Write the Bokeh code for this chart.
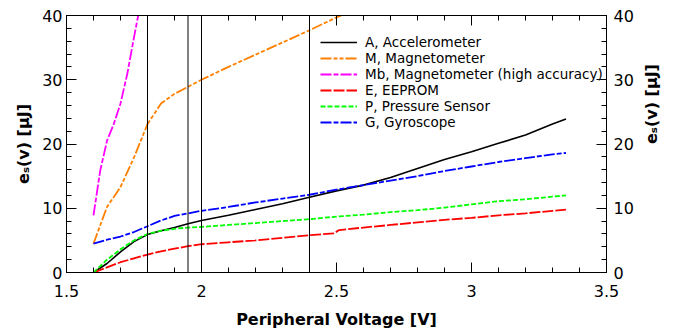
import numpy as np
from bokeh.plotting import figure
from bokeh.models import (LinearAxis, Range1d, FixedTicker, NumeralTickFormatter,
                          Span, Legend, LegendItem, CustomLabelingPolicy)
from bokeh.embed import file_html
from bokeh.resources import INLINE

# ---------------- data ----------------
x_A = [1.6, 1.65, 1.7, 1.75, 1.8, 1.85, 1.9, 1.95, 2.0, 2.1, 2.2, 2.3, 2.4, 2.5, 2.6, 2.7, 2.8, 2.9, 3.0, 3.1, 3.2, 3.3, 3.35]
y_A = [0.0, 1.4, 3.2, 4.8, 5.9, 6.5, 7.0, 7.6, 8.1, 8.9, 9.8, 10.7, 11.7, 12.7, 13.6, 14.8, 16.2, 17.6, 18.8, 20.1, 21.4, 23.1, 23.9]

x_M = [1.6, 1.65, 1.7, 1.75, 1.8, 1.85, 1.9, 1.95, 2.0, 2.1, 2.2, 2.3, 2.4, 2.5, 2.55]
y_M = [4.5, 10.2, 13.3, 17.9, 23.1, 26.3, 27.8, 28.9, 30.0, 32.0, 33.9, 35.8, 37.7, 39.7, 40.6]

x_Mb = [1.6, 1.625, 1.65, 1.675, 1.7, 1.725, 1.75, 1.77]
y_Mb = [8.9, 15.9, 20.5, 23.1, 26.3, 30.9, 36.6, 41.0]

x_E = [1.6, 1.65, 1.7, 1.75, 1.8, 1.85, 1.9, 1.95, 2.0, 2.1, 2.2, 2.3, 2.4, 2.49, 2.51, 2.6, 2.7, 2.8, 2.9, 3.0, 3.1, 3.2, 3.3, 3.35]
y_E = [0.0, 0.8, 1.6, 2.2, 2.8, 3.3, 3.7, 4.1, 4.4, 4.7, 5.0, 5.4, 5.8, 6.1, 6.6, 7.0, 7.4, 7.8, 8.2, 8.5, 8.9, 9.2, 9.6, 9.8]

x_P = [1.6, 1.65, 1.7, 1.75, 1.8, 1.85, 1.9, 1.95, 2.0, 2.1, 2.2, 2.3, 2.4, 2.5, 2.6, 2.7, 2.8, 2.9, 3.0, 3.1, 3.2, 3.3, 3.35]
y_P = [0.0, 2.0, 3.6, 5.0, 6.0, 6.5, 6.8, 7.0, 7.1, 7.4, 7.7, 8.0, 8.3, 8.7, 9.0, 9.4, 9.7, 10.1, 10.6, 11.1, 11.4, 11.8, 12.0]

x_G = [1.6, 1.65, 1.7, 1.75, 1.8, 1.85, 1.9, 1.95, 2.0, 2.1, 2.2, 2.3, 2.4, 2.5, 2.6, 2.7, 2.8, 2.9, 3.0, 3.1, 3.2, 3.3, 3.35]
y_G = [4.5, 5.1, 5.6, 6.3, 7.2, 8.1, 8.8, 9.2, 9.6, 10.2, 10.9, 11.5, 12.1, 12.9, 13.6, 14.3, 15.0, 15.8, 16.5, 17.2, 17.8, 18.4, 18.6]

v_lines = [1.8, 1.95, 2.0, 2.4]

x_ticks = [1.5, 2.0, 2.5, 3.0, 3.5]
y_ticks = [0, 10, 20, 30, 40]

labels = ["A, Accelerometer", "M, Magnetometer", "Mb, Magnetometer (high accuracy)",
          "E, EEPROM", "P, Pressure Sensor", "G, Gyroscope"]

FONT = "DejaVu Sans"

p = figure(frame_width=540, frame_height=257, output_backend="svg", toolbar_location=None,
           x_range=Range1d(1.5, 3.5), y_range=Range1d(0, 40),
           min_border_left=66, min_border_right=72, min_border_top=15, min_border_bottom=60)
p.xgrid.visible = False
p.ygrid.visible = False
p.outline_line_color = "black"
p.outline_line_width = 1
p.background_fill_color = "white"
p.border_fill_color = "white"

x_minor = list(np.round(np.arange(1.5, 3.5001, 0.1), 3))
y_minor = list(range(0, 41, 2))
xt = FixedTicker(ticks=x_ticks, minor_ticks=x_minor)
yt = FixedTicker(ticks=y_ticks, minor_ticks=y_minor)

ylabel = "e\u209b(v) [\u03bcJ]"


def style(ax):
    ax.axis_line_color = "black"
    ax.major_tick_line_color = "black"
    ax.minor_tick_line_color = "black"
    ax.major_tick_in = 10
    ax.major_tick_out = 0
    ax.minor_tick_in = 5
    ax.minor_tick_out = 0
    ax.major_label_text_font = FONT
    ax.major_label_text_font_size = "16px"
    ax.major_label_text_color = "black"
    ax.axis_label_text_font = FONT
    ax.axis_label_text_font_size = "16px"
    ax.axis_label_text_font_style = "bold"
    ax.axis_label_text_color = "black"


bx = p.xaxis[0]
bx.ticker = xt
bx.formatter = NumeralTickFormatter(format="0.[0]")
bx.axis_label = "Peripheral Voltage [V]"
style(bx)
bx.major_label_standoff = 12
bx.axis_label_standoff = 10

ly = p.yaxis[0]
ly.ticker = yt
ly.axis_label = ylabel
style(ly)
ly.major_label_standoff = 4
ly.axis_label_standoff = 6

ry = LinearAxis(ticker=yt, axis_label=ylabel)
style(ry)
ry.major_label_standoff = 7
ry.axis_label_standoff = 15
ry.axis_label_orientation = float(np.pi / 2)
p.add_layout(ry, "right")

tx = LinearAxis(ticker=xt)
style(tx)
tx.major_label_policy = CustomLabelingPolicy(code="return new Set()")
tx.major_label_standoff = 0
p.add_layout(tx, "above")

for v in v_lines:
    p.add_layout(Span(location=v, dimension="height", line_color="black", line_width=1))

r_A = p.line(x_A, y_A, line_color="black", line_width=1.6)
r_M = p.line(x_M, y_M, line_color="#ff8000", line_width=1.8, line_dash="11 2 4 2 4 2")
r_Mb = p.line(x_Mb, y_Mb, line_color="#ff00ff", line_width=1.8, line_dash="11 2 5 2")
r_E = p.line(x_E, y_E, line_color="#ff0000", line_width=1.8, line_dash="11 2")
r_P = p.line(x_P, y_P, line_color="#00ff00", line_width=1.8, line_dash="5 2")
r_G = p.line(x_G, y_G, line_color="#0000ff", line_width=1.8, line_dash="11 2 5 2")

items = [LegendItem(label=l, renderers=[r]) for l, r in
         zip(labels, [r_A, r_M, r_Mb, r_E, r_P, r_G])]
legend = Legend(items=items, location=(254, 142), padding=0, margin=0, spacing=0,
                glyph_width=37, glyph_height=16, label_height=16, label_standoff=8,
                label_text_font=FONT, label_text_font_size="13.5px", label_text_color="black",
                border_line_color=None, background_fill_alpha=0)
p.add_layout(legend, "center")

open("out.html", "w").write(file_html(p, INLINE))
